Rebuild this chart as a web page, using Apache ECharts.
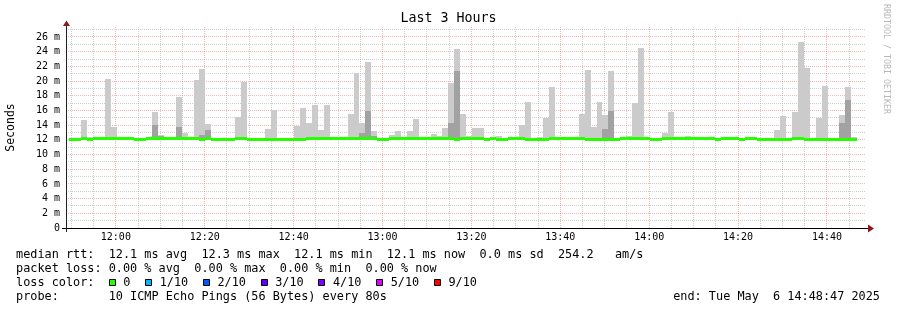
<!DOCTYPE html>
<html>
<head>
<meta charset="utf-8">
<script src="https://cdn.jsdelivr.net/npm/echarts@6/dist/echarts.min.js"></script>
<style>
html,body{margin:0;padding:0;background:#ffffff;}
#c{width:897px;height:310px;}
</style>
</head>
<body>
<div id="c"></div>
<script>
// ---------------- DATA ----------------
const chartTitle = 'Last 3 Hours';
const yAxisName = 'Seconds';
const watermark = 'RRDTOOL / TOBI OETIKER';
const rangeStart = '11:48:47';
const rangeEnd = '14:48:47';
const firstSampleTime = '11:49:29';
const sampleStepSeconds = 80;

const xTickLabels = ['12:00','12:20','12:40','13:00','13:20','13:40','14:00','14:20','14:40'];
const yTickValues = [0,2,4,6,8,10,12,14,16,18,20,22,24,26];
const yTickLabels = ['0','2 m','4 m','6 m','8 m','10 m','12 m','14 m','16 m','18 m','20 m','22 m','24 m','26 m'];
const yAxisMax = 27.36;

// smoke: highest ping of each 80 s sample (ms)
const smokeHigh = [
  12.2, 12.2, 14.7, 12.35, 12.35, 12.35, 20.28, 13.75, 12.2, 12.2,
  12.2, 12.2, 12.2, 12.2, 15.79, 12.7, 12.35, 12.35, 17.87, 12.97,
  12.2, 20.15, 21.64, 14.16, 12.2, 12.2, 12.2, 12.2, 15.11, 19.87,
  12.2, 12.2, 12.2, 13.48, 16.06, 12.2, 12.2, 12.2, 13.93, 16.34,
  14.29, 16.74, 13.3, 16.74, 12.2, 12.2, 12.2, 15.52, 21.1, 14.29,
  22.6, 13.2, 12.2, 12.2, 12.61, 13.2, 12.2, 13.2, 14.84, 12.2,
  12.2, 12.8, 12.57, 13.61, 19.74, 24.37, 15.52, 12.52, 13.61, 13.61,
  12.2, 12.43, 12.52, 12.2, 12.4, 12.2, 14.02, 17.15, 12.2, 12.4,
  14.97, 19.19, 12.2, 12.2, 12.4, 12.4, 15.52, 21.51, 13.75, 17.15,
  15.38, 21.37, 12.2, 12.2, 12.5, 17.02, 24.5, 12.4, 12.2, 12.2,
  12.93, 15.79, 12.2, 12.2, 12.5, 12.4, 12.4, 12.4, 12.2, 12.2,
  12.2, 12.4, 12.2, 12.2, 12.2, 12.2, 12.2, 12.2, 12.2, 13.34,
  15.25, 12.2, 15.79, 25.32, 21.78, 12.2, 14.97, 19.33, 12.2, 12.2,
  15.38, 19.19, 12.4
];

// smoke: inner (darker) band top of each sample, null = none
const smokeInner = [
  null, null, null, null, null, null, null, null, null, null,
  null, null, null, null, 14.06, 12.52, null, null, 13.79, null,
  null, null, 12.66, 13.34, null, null, null, null, null, null,
  null, null, null, null, null, null, null, null, null, null,
  null, null, null, null, null, null, null, null, null, 12.93,
  15.93, 12.5, null, null, null, null, null, null, null, null,
  null, null, null, null, 14.29, 21.37, null, null, null, null,
  null, null, null, null, null, null, null, null, null, null,
  null, null, null, null, null, null, null, null, null, null,
  13.48, 15.93, null, null, null, null, null, null, null, null,
  null, null, null, null, null, null, null, null, null, null,
  null, null, null, null, null, null, null, null, null, null,
  null, null, null, null, null, null, null, null, null, null,
  14.29, 17.42, null
];

// median rtt of each sample (ms)
const medianRtt = [
  11.98, 11.98, 12.12, 11.98, 12.12, 12.12, 12.12, 12.12, 12.12, 12.12,
  12.12, 11.98, 11.98, 12.12, 12.12, 12.12, 12.12, 12.12, 12.12, 12.12,
  12.12, 12.12, 11.98, 12.12, 11.98, 11.98, 11.98, 11.98, 12.12, 12.12,
  11.98, 11.98, 11.98, 11.98, 11.98, 11.98, 11.98, 11.98, 11.98, 11.98,
  12.12, 12.12, 12.12, 12.12, 12.12, 12.12, 12.12, 12.12, 12.12, 12.12,
  12.12, 12.12, 11.98, 11.98, 12.12, 12.12, 12.12, 12.12, 12.12, 12.12,
  12.12, 12.12, 12.12, 12.12, 12.12, 11.98, 12.12, 12.12, 12.12, 12.12,
  11.98, 12.12, 11.98, 11.98, 12.12, 12.12, 12.12, 11.98, 11.98, 11.98,
  11.98, 12.12, 12.12, 12.12, 12.12, 12.12, 12.12, 11.98, 11.98, 11.98,
  11.98, 11.98, 11.98, 12.12, 12.12, 12.12, 12.12, 12.12, 11.98, 11.98,
  12.12, 12.12, 12.12, 12.12, 12.12, 12.12, 12.12, 12.12, 12.12, 11.98,
  12.12, 12.12, 12.12, 11.98, 12.12, 12.12, 11.98, 11.98, 11.98, 11.98,
  11.98, 11.98, 12.12, 12.12, 11.98, 11.98, 11.98, 11.98, 11.98, 11.98,
  11.98, 11.98, 11.98
];

const legendMedian = 'median rtt:  12.1 ms avg  12.3 ms max  12.1 ms min  12.1 ms now  0.0 ms sd  254.2   am/s';
const legendLoss = 'packet loss: 0.00 % avg  0.00 % max  0.00 % min  0.00 % now';
const lossColorTitle = 'loss color:';
const lossColorLabels = ['0','1/10','2/10','3/10','4/10','5/10','9/10'];
const lossColors = ['#26ff00','#00b8ff','#0059ff','#5e00ff','#7e00ff','#dd00ff','#ff0000'];
const legendProbe = 'probe:       10 ICMP Echo Pings (56 Bytes) every 80s';
const legendEnd = 'end: Tue May  6 14:48:47 2025';

// ---------------- STYLE ----------------
const MONO = "'DejaVu Sans Mono', 'Liberation Mono', monospace";
const SMOKE_LIGHT = '#cbcbcb';
const SMOKE_DARK = '#a2a2a2';
const MEDIAN_COLOR = '#26ff00';
const GRID_MINOR = 'rgba(150,150,150,0.45)';
const GRID_MAJOR = 'rgba(230,80,80,0.42)';
const ARROW = '#8c1a1a';

function toMin(s){ const p = s.split(':').map(Number); return p[0]*60 + p[1] + (p[2]||0)/60; }
const tMin = toMin(rangeStart), tMax = toMin(rangeEnd);
const t0 = toMin(firstSampleTime), step = sampleStepSeconds/60;
const xTickValues = xTickLabels.map(toMin);

const smokeData = smokeHigh.map((h,i)=>[t0 + i*step, medianRtt[i], h, smokeInner[i] == null ? NaN : smokeInner[i]]);
const medianData = medianRtt.map((m,i)=>[t0 + i*step, m]);

const vGrid = [];
for (let m = Math.ceil(tMin/5)*5; m <= tMax; m += 5) vGrid.push([m, m % 20 === 0 ? 1 : 0]);
const hGrid = [];
for (let v = 1; v <= Math.floor(yAxisMax); v++) hGrid.push([v, v % 2 === 0 ? 1 : 0]);

const chart = echarts.init(document.getElementById('c'), null, {renderer:'canvas'});

// legend graphics
const CW = 7.13, FS = 11.85, LX = 16;
const rowsY = [254.5, 268.5, 282.5, 296.5];
const g = [];
function txt(x,y,s,align,extra){
  g.push(Object.assign({type:'text', x:x, y:y, silent:true, z:20,
    style:{text:s, fill:'#000', font: FS+'px '+MONO, textAlign:align||'left', textVerticalAlign:'middle'}}, extra||{}));
}
txt(LX, rowsY[0], legendMedian);
txt(LX, rowsY[1], legendLoss);
txt(LX, rowsY[2], lossColorTitle);
let cx = LX + 13*CW;
lossColorLabels.forEach((lab,i)=>{
  g.push({type:'rect', silent:true, z:20, shape:{x:Math.round(cx)+0.5, y:279.5, width:6, height:6},
    style:{fill:lossColors[i], stroke:'#000', lineWidth:1}});
  txt(cx + 2.05*CW, rowsY[2], lab);
  cx += (2.05 + lab.length + 2.05)*CW;
});
txt(LX, rowsY[3], legendProbe);
txt(880, rowsY[3], legendEnd, 'right');
// title
g.push({type:'text', x:448.5, y:19, silent:true, z:20,
  style:{text:chartTitle, fill:'#000', font:'13.3px '+MONO, textAlign:'center', textVerticalAlign:'middle'}});
// watermark
g.push({type:'text', x:886, y:4, rotation:-Math.PI/2, silent:true, z:20,
  style:{text:watermark, fill:'#b8b8b8', font:'8.3px '+MONO, textAlign:'left', textVerticalAlign:'middle'}});
// axis lines and arrows
g.push({type:'line', silent:true, z:30, shape:{x1:62, y1:228.5, x2:869, y2:228.5}, style:{stroke:'#000', lineWidth:1}});
g.push({type:'line', silent:true, z:30, shape:{x1:66.5, y1:232, x2:66.5, y2:24}, style:{stroke:'#202020', lineWidth:1}});
g.push({type:'polygon', silent:true, z:31, shape:{points:[[868,224.5],[874,228.5],[868,232.5]]}, style:{fill:ARROW}});
g.push({type:'polygon', silent:true, z:31, shape:{points:[[63,26],[66.5,20.5],[70,26]]}, style:{fill:ARROW}});

const option = {
  animation: false,
  backgroundColor: '#ffffff',
  grid: {left:66, top:27, width:800, height:201, containLabel:false, outerBoundsMode:'none'},
  xAxis: {
    type:'value', min:tMin, max:tMax,
    axisLine:{show:false}, axisTick:{show:false}, splitLine:{show:false},
    axisLabel:{
      customValues: xTickValues,
      formatter:(v)=>{ const i = xTickValues.findIndex(x=>Math.abs(x-v)<1e-6); return i>=0 ? xTickLabels[i] : ''; },
      fontFamily: MONO, fontSize:10, color:'#000', margin:4
    }
  },
  yAxis: {
    type:'value', min:0, max:yAxisMax, interval:2,
    name: yAxisName, nameLocation:'middle', nameRotate:90, nameGap:49,
    nameTextStyle:{fontFamily:MONO, fontSize:11.5, color:'#000'},
    axisLine:{show:false}, axisTick:{show:false}, splitLine:{show:false},
    axisLabel:{
      showMaxLabel:false,
      formatter:(v)=>{ const i = yTickValues.indexOf(v); return i>=0 ? yTickLabels[i] : ''; },
      fontFamily: MONO, fontSize:10, color:'#000', margin:6
    }
  },
  graphic: g,
  series: [
    {
      type:'custom', name:'vgrid', z:1, silent:true, clip:false, data:vGrid,
      renderItem:(p, api)=>{
        const m = api.value(0), major = api.value(1);
        const a = api.coord([m, 0]), b = api.coord([m, yAxisMax]);
        const x = Math.floor(a[0]) + 0.5;
        return {type:'line', shape:{x1:x, y1:a[1], x2:x, y2:b[1]},
          style:{stroke: major ? GRID_MAJOR : GRID_MINOR, lineWidth:1, lineDash:[1,1]}};
      }
    },
    {
      type:'custom', name:'hgrid', z:1, silent:true, clip:false, data:hGrid,
      encode:{x:-1, y:0},
      renderItem:(p, api)=>{
        const v = api.value(0), major = api.value(1);
        const a = api.coord([tMin, v]), b = api.coord([tMax, v]);
        const y = Math.floor(a[1]) + 0.5;
        return {type:'line', shape:{x1:a[0], y1:y, x2:b[0], y2:y},
          style:{stroke: major ? GRID_MAJOR : GRID_MINOR, lineWidth:1, lineDash:[1,1]}};
      }
    },
    {
      type:'custom', name:'smoke', z:2, silent:true, data:smokeData,
      encode:{x:0, y:[1,2]},
      renderItem:(p, api)=>{
        const t = api.value(0), lo = api.value(1), hi = api.value(2), dk = api.value(3);
        const a = api.coord([t, hi]), b = api.coord([t + step, lo]);
        const x1 = Math.round(a[0]), x2 = Math.round(b[0]);
        const yb = Math.round(b[1]);
        const children = [{type:'rect', shape:{x:x1, y:Math.round(a[1]), width:x2-x1, height:yb-Math.round(a[1])},
          style:{fill:SMOKE_LIGHT}}];
        if (!isNaN(dk)) {
          const d = api.coord([t, dk]);
          children.push({type:'rect', shape:{x:x1, y:Math.round(d[1]), width:x2-x1, height:yb-Math.round(d[1])},
            style:{fill:SMOKE_DARK}});
        }
        return {type:'group', children};
      }
    },
    {
      type:'custom', name:'median', z:3, silent:true, data:medianData,
      encode:{x:0, y:1},
      renderItem:(p, api)=>{
        const t = api.value(0), m = api.value(1);
        const a = api.coord([t, m]), b = api.coord([t + step, m]);
        const x1 = Math.round(a[0]), x2 = Math.round(b[0]);
        const y = Math.round(a[1] - 1.5);
        return {type:'rect', shape:{x:x1, y:y, width:x2-x1, height:3}, style:{fill:MEDIAN_COLOR}};
      }
    }
  ]
};
chart.setOption(option);
</script>
</body>
</html>
